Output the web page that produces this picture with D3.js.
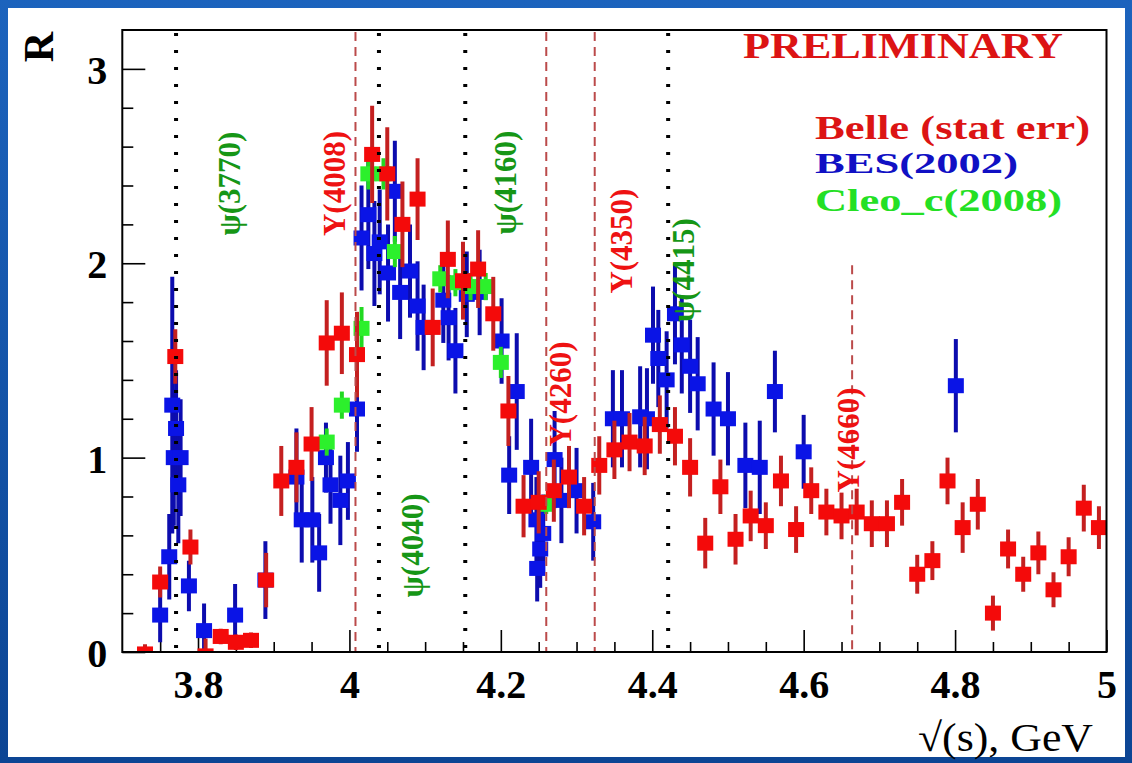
<!DOCTYPE html>
<html>
<head>
<meta charset="utf-8">
<script src="https://cdn.jsdelivr.net/npm/d3@7"></script>
<style>
  html, body { margin: 0; padding: 0; overflow: hidden; background: #0f4a9c; }
  svg { display: block; }
</style>
</head>
<body>
<svg id="chart" width="1132" height="763"></svg>
<script>
// ---- R ratio measurements: sqrt(s) in GeV, R value, statistical error ----
const belleE = [3.73,3.75,3.77,3.79,3.81,3.83,3.85,3.87,3.89,3.91,3.93,3.95,3.97,3.99,4.01,4.03,
  4.05,4.07,4.09,4.11,4.13,4.15,4.17,4.19,4.21,4.23,4.25,4.27,4.29,4.31,4.33,4.35,
  4.37,4.39,4.41,4.43,4.45,4.47,4.49,4.51,4.53,4.55,4.57,4.59,4.61,4.63,4.65,4.67,
  4.69,4.71,4.73,4.75,4.77,4.79,4.81,4.83,4.85,4.87,4.89,4.91,4.93,4.95,4.97,4.99];
const belleR = [-0.01,0.36,1.52,0.54,-0.02,0.08,0.05,0.06,0.37,0.88,0.95,1.07,1.59,1.64,1.53,2.56,
  2.46,2.20,2.33,1.67,2.02,1.91,1.97,1.74,1.24,0.75,0.77,0.83,0.90,0.75,0.96,1.04,
  1.08,1.06,1.17,1.11,0.95,0.56,0.85,0.58,0.70,0.65,0.88,0.63,0.83,0.72,0.70,0.72,
  0.66,0.66,0.77,0.40,0.47,0.88,0.64,0.76,0.20,0.53,0.40,0.51,0.32,0.49,0.74,0.64];
const belleErr = [0.05,0.08,0.14,0.09,0.09,0.04,0.04,0.04,0.14,0.18,0.18,0.19,0.22,0.21,0.22,0.25,
  0.24,0.22,0.21,0.20,0.20,0.20,0.20,0.19,0.18,0.16,0.16,0.16,0.16,0.15,0.15,0.15,
  0.15,0.15,0.15,0.15,0.15,0.13,0.14,0.13,0.13,0.12,0.13,0.12,0.12,0.12,0.12,0.12,
  0.12,0.12,0.12,0.10,0.10,0.12,0.13,0.13,0.09,0.10,0.09,0.11,0.09,0.10,0.12,0.11];

const besE = [3.750,3.762,3.766,3.768,3.771,3.774,3.777,3.788,3.808,3.849,
  3.889,3.930,3.937,3.951,3.960,3.969,3.975,3.988,3.998,4.010,
  4.016,4.025,4.033,4.040,4.051,4.060,4.067,4.080,4.090,4.098,
  4.124,4.131,4.140,4.155,4.172,4.201,4.211,4.221,4.240,4.247,
  4.248,4.252,4.256,4.271,4.280,4.300,4.322,4.348,4.360,4.384,
  4.393,4.401,4.408,4.419,4.430,4.439,4.450,4.460,4.481,4.500,
  4.523,4.542,4.562,4.600,4.801];
const besR = [0.19,0.49,1.27,1.00,1.15,0.86,1.00,0.34,0.11,0.19,
  0.37,0.90,0.68,0.68,0.51,1.00,0.86,0.78,0.88,1.25,
  2.13,2.25,2.05,2.11,1.95,2.37,1.85,1.96,1.78,1.67,
  1.81,1.72,1.55,1.84,1.85,1.60,0.91,1.34,0.95,0.68,
  0.43,0.53,0.61,0.99,0.78,0.83,0.67,1.20,1.20,1.21,
  1.20,1.63,1.51,1.40,1.74,1.58,1.47,1.38,1.25,1.20,
  0.96,0.95,1.34,1.03,1.37];
const besErr = [0.14,0.22,0.66,0.35,0.30,0.30,0.30,0.13,0.14,0.16,
  0.20,0.25,0.22,0.22,0.20,0.18,0.20,0.23,0.20,0.22,
  0.27,0.28,0.27,0.27,0.25,0.26,0.24,0.24,0.23,0.22,
  0.22,0.22,0.22,0.22,0.22,0.22,0.20,0.30,0.25,0.22,
  0.17,0.20,0.20,0.25,0.22,0.22,0.20,0.25,0.25,0.26,
  0.26,0.25,0.25,0.25,0.26,0.25,0.24,0.24,0.24,0.24,
  0.22,0.24,0.21,0.19,0.24];

const cleoE = [3.970,3.990,4.016,4.025,4.045,4.060,4.120,4.140,4.160,4.180,4.200,4.260];
const cleoR = [1.08,1.27,1.665,2.46,2.46,2.06,1.92,1.90,1.88,1.88,1.49,0.76];
const cleoErr = [0.07,0.07,0.11,0.08,0.08,0.08,0.07,0.07,0.07,0.07,0.08,0.05];

// ---- resonances ----
const psiMass = [3.771, 4.039, 4.153, 4.421];
const psiNames = ["ψ(3770)", "ψ(4040)", "ψ(4160)", "ψ(4415)"];
const psiLabelE = [3.842, 4.084, 4.207, 4.441];
const psiLabelR = [2.41, 0.548, 2.415, 1.965];

const yMass = [4.008, 4.260, 4.324, 4.664];
const yNames = ["Y(4008)", "Y(4260)", "Y(4350)", "Y(4660)"];
const yLineTop = [3.2, 3.2, 3.2, 2.0];
const yLabelE = [3.980, 4.2795, 4.360, 4.660];
const yLabelR = [2.41, 1.327, 2.114, 1.091];

// ---- axes ----
const xMajor = [3.8, 4.0, 4.2, 4.4, 4.6, 4.8, 5.0];
const xMajorLabels = ["3.8", "4", "4.2", "4.4", "4.6", "4.8", "5"];
const yMajor = [0, 1, 2, 3];
const yMajorLabels = ["0", "1", "2", "3"];

const legendNames = ["Belle (stat err)", "BES(2002)", "Cleo_c(2008)"];

const SERIF = "'Liberation Serif', 'Times New Roman', 'DejaVu Serif', serif";

const svg = d3.select("#chart");
const W = 1132, H = 763;

// slide background
const defs = svg.append("defs");
const grad = defs.append("linearGradient").attr("id", "slideBg")
  .attr("x1", 0).attr("y1", 0).attr("x2", 0).attr("y2", 1);
grad.append("stop").attr("offset", 0).attr("stop-color", "#1c63bd");
grad.append("stop").attr("offset", 1).attr("stop-color", "#0c4594");
svg.append("rect").attr("width", W).attr("height", H).attr("fill", "url(#slideBg)");
svg.append("rect").attr("x", 8).attr("y", 8).attr("width", 1117).attr("height", 749).attr("fill", "#ffffff");

const plot = { left: 122.3, right: 1106.5, top: 30, bottom: 652 };
const x = d3.scaleLinear().domain([3.7, 5.0]).range([plot.left, plot.right]);
const y = d3.scaleLinear().domain([0, 3.2]).range([plot.bottom, plot.top]);

defs.append("clipPath").attr("id", "plotClip").append("rect")
  .attr("x", plot.left).attr("y", plot.top)
  .attr("width", plot.right - plot.left).attr("height", plot.bottom - plot.top);

// ---- x axis (ticks point inward) ----
const xMinor = d3.range(3.75, 5.0, 0.05).map(v => +v.toFixed(2))
  .filter(v => !xMajor.some(m => Math.abs(m - v) < 1e-6));
const gxMinor = svg.append("g").attr("transform", `translate(0,${plot.bottom})`)
  .call(d3.axisBottom(x).tickValues(xMinor).tickSize(-10).tickSizeOuter(0).tickFormat(""));
const gx = svg.append("g").attr("transform", `translate(0,${plot.bottom})`)
  .call(d3.axisBottom(x).tickValues(xMajor).tickSize(-22).tickSizeOuter(0)
    .tickFormat((d, i) => xMajorLabels[i]));
gx.selectAll("text").attr("y", 46).attr("dy", null)
  .attr("font-family", SERIF).attr("font-size", 40).attr("font-weight", "bold").attr("fill", "#000");

// ---- y axis ----
const yMinor = d3.range(0.2, 3.0, 0.2).map(v => +v.toFixed(1))
  .filter(v => !yMajor.some(m => Math.abs(m - v) < 1e-6));
const gyMinor = svg.append("g").attr("transform", `translate(${plot.left},0)`)
  .call(d3.axisLeft(y).tickValues(yMinor).tickSize(-11).tickSizeOuter(0).tickFormat(""));
const gy = svg.append("g").attr("transform", `translate(${plot.left},0)`)
  .call(d3.axisLeft(y).tickValues(yMajor).tickSize(-23).tickSizeOuter(0)
    .tickFormat((d, i) => yMajorLabels[i]));
gy.selectAll("text").attr("x", -15).attr("dy", "0.36em")
  .attr("font-family", SERIF).attr("font-size", 40).attr("font-weight", "bold").attr("fill", "#000");

[gxMinor, gx, gyMinor, gy].forEach(g => {
  g.select(".domain").remove();
  g.selectAll(".tick line").attr("stroke", "#000").attr("stroke-width", 1.6);
});

// ---- data series ----
function drawSeries(E, R, Err, barColor, markColor) {
  const pts = E.map((e, i) => ({ e, r: R[i], err: Err[i] }));
  const g = svg.append("g").attr("clip-path", "url(#plotClip)");
  g.selectAll("line").data(pts).join("line")
    .attr("x1", d => x(d.e)).attr("x2", d => x(d.e))
    .attr("y1", d => y(d.r - d.err)).attr("y2", d => y(d.r + d.err))
    .attr("stroke", barColor).attr("stroke-width", 4);
  g.selectAll("rect").data(pts).join("rect")
    .attr("x", d => x(d.e) - 8).attr("y", d => y(d.r) - 7.5)
    .attr("width", 16).attr("height", 15)
    .attr("fill", markColor);
}
drawSeries(besE, besR, besErr, "#0c0cae", "#0a14e6");
drawSeries(cleoE, cleoR, cleoErr, "#22d822", "#2cf02c");
drawSeries(belleE, belleR, belleErr, "#c42020", "#f40a0a");

// ---- resonance lines ----
const lines = svg.append("g");
lines.selectAll("line.psi").data(psiMass).join("line").attr("class", "psi")
  .attr("x1", d => x(d)).attr("x2", d => x(d))
  .attr("y1", y(3.2) + 3).attr("y2", y(0))
  .attr("stroke", "#000").attr("stroke-width", 4).attr("stroke-dasharray", "3 14");
lines.selectAll("line.yst").data(yMass).join("line").attr("class", "yst")
  .attr("x1", d => x(d)).attr("x2", d => x(d))
  .attr("y1", (d, i) => y(yLineTop[i]) + 2).attr("y2", y(0))
  .attr("stroke", "#bb4a4a").attr("stroke-width", 2).attr("stroke-dasharray", "9 6");

// ---- resonance labels (vertical) ----
function vLabels(names, E, R, color) {
  svg.append("g").selectAll("text").data(names).join("text")
    .attr("transform", (d, i) => `translate(${x(E[i])},${y(R[i])}) rotate(-90)`)
    .attr("text-anchor", "middle").attr("dy", "0.33em")
    .attr("font-family", SERIF).attr("font-weight", "bold").attr("font-size", 31)
    .attr("fill", color).text(d => d);
}
vLabels(psiNames, psiLabelE, psiLabelR, "#169616");
vLabels(yNames, yLabelE, yLabelR, "#ee1212");

// ---- frame ----
svg.append("rect").attr("x", plot.left).attr("y", plot.top)
  .attr("width", plot.right - plot.left).attr("height", plot.bottom - plot.top)
  .attr("fill", "none").attr("stroke", "#000").attr("stroke-width", 2);

// ---- axis titles ----
svg.append("text").attr("transform", "translate(53,47) rotate(-90)")
  .attr("text-anchor", "middle").attr("font-family", SERIF).attr("font-weight", "bold")
  .attr("font-size", 42).attr("fill", "#000").text("R");
svg.append("text").attr("x", 918).attr("y", 751)
  .attr("textLength", 175).attr("lengthAdjust", "spacingAndGlyphs")
  .attr("font-family", SERIF).attr("font-size", 40).attr("fill", "#000").text("√(s), GeV");

// ---- legend ----
svg.append("text").attr("x", 743).attr("y", 58)
  .attr("textLength", 320).attr("lengthAdjust", "spacingAndGlyphs")
  .attr("font-family", SERIF).attr("font-weight", "bold").attr("font-size", 35)
  .attr("fill", "#dc1414").text("PRELIMINARY");
const legendColors = ["#dc1414", "#1010c4", "#24e024"];
const legendBase = [139, 173, 211];
const legendWidth = [275, 203, 247];
const legendSize = [33, 29, 32];
svg.append("g").selectAll("text").data(legendNames).join("text")
  .attr("x", 815).attr("y", (d, i) => legendBase[i])
  .attr("textLength", (d, i) => legendWidth[i]).attr("lengthAdjust", "spacingAndGlyphs")
  .attr("font-family", SERIF).attr("font-weight", "bold").attr("font-size", (d, i) => legendSize[i])
  .attr("fill", (d, i) => legendColors[i]).text(d => d);
</script>
</body>
</html>
